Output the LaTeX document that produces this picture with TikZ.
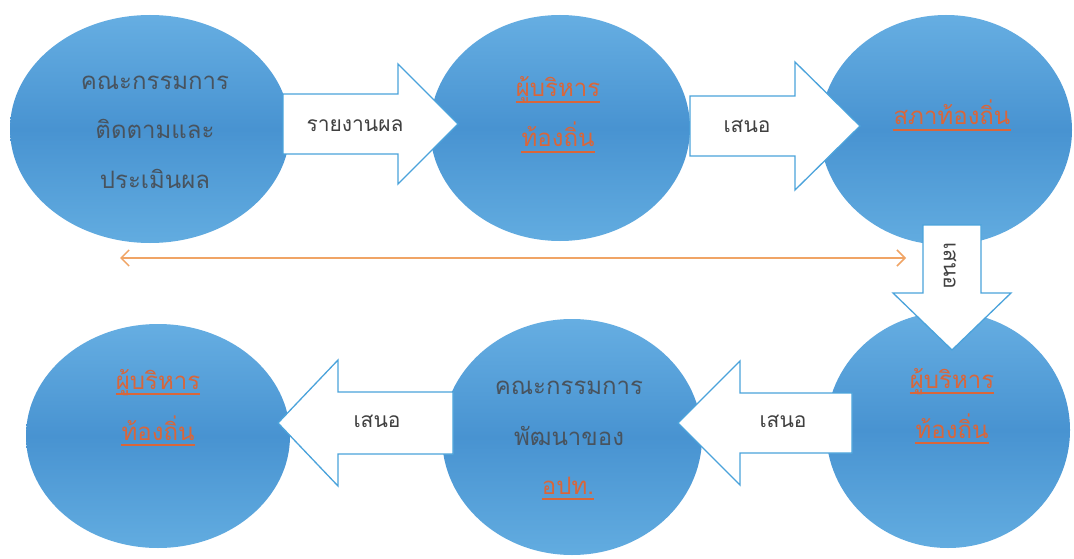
\documentclass[tikz,border=0pt]{standalone}
\usepackage{fontspec}
\newfontfamily\thaifont[Script=Thai]{Loma}
\usetikzlibrary{shapes.geometric,arrows.meta}
\definecolor{eA}{HTML}{8ECAF0}
\definecolor{eB}{HTML}{62ACE0}
\definecolor{eC}{HTML}{4893D1}
\definecolor{eD}{HTML}{66AEE2}
\definecolor{eE}{HTML}{80BEEA}
\definecolor{arrowblue}{HTML}{4BA3DB}
\definecolor{darktxt}{HTML}{48535E}
\definecolor{orangetxt}{HTML}{D9663A}
\definecolor{orangeline}{HTML}{F0A465}
\pgfdeclareverticalshading{ellblue}{100bp}{color(0bp)=(eA); color(25bp)=(eB); color(50bp)=(eC); color(75bp)=(eD); color(100bp)=(eE)}
\tikzset{
  ell/.style={ellipse, shading=ellblue, draw=none, inner sep=0pt},
  blk/.style={fill=white, draw=arrowblue, line width=1.3pt, line join=miter},
  dtext/.style={font=\thaifont\fontsize{24}{30}\selectfont, text=darktxt, anchor=base, inner sep=0pt},
  otext/.style={font=\thaifont\fontsize{24}{30}\selectfont, text=orangetxt, anchor=base, inner sep=0pt},
  lbl/.style={font=\thaifont\fontsize{21}{25}\selectfont, text=black!75, inner sep=0pt},
  uline/.style={draw=orangetxt, line width=1.6pt},
  biline/.style={draw=orangeline, line width=1.5pt, {Straight Barb[length=8pt,width=16pt]}-{Straight Barb[length=8pt,width=16pt]}}
}
\begin{document}
\begin{tikzpicture}[x=1pt,y=-1pt]
\useasboundingbox[fill=white] (0,0) rectangle (1074,559);
% ellipses
\node[ell, minimum width=280pt, minimum height=228pt] (e1) at (150,129) {};
\node[ell, minimum width=260pt, minimum height=226pt] (e2) at (560,128) {};
\node[ell, minimum width=252pt, minimum height=230pt] (e3) at (946,130) {};
\node[ell, minimum width=244pt, minimum height=236pt] (e4) at (948,430) {};
\node[ell, minimum width=260pt, minimum height=236pt] (e5) at (572,437) {};
\node[ell, minimum width=264pt, minimum height=224pt] (e6) at (158,436) {};
% block arrows
\draw[blk] (283,94) -- (398,94) -- (398,64) -- (458,124) -- (398,184) -- (398,154) -- (283,154) -- cycle;
\draw[blk] (690,96) -- (795,96) -- (795,62) -- (860,126) -- (795,190) -- (795,156) -- (690,156) -- cycle;
\draw[blk] (923,225) -- (923,293) -- (893,293) -- (952,350) -- (1011,293) -- (981,293) -- (981,225) -- cycle;
\draw[blk] (852,393) -- (740,393) -- (740,361) -- (678,423) -- (740,485) -- (740,453) -- (852,453) -- cycle;
\draw[blk] (453,392) -- (338,392) -- (338,360) -- (278,423) -- (338,486) -- (338,454) -- (453,454) -- cycle;
% arrow labels
\node[lbl] (l1) at (355,126) {รายงานผล};
\node[lbl] (l2) at (747,126) {เสนอ};
\node[lbl, rotate=-90] (l3) at (950,266) {เสนอ};
\node[lbl] (l4) at (783,421) {เสนอ};
\node[lbl] (l5) at (377,421) {เสนอ};
% orange double arrow
\coordinate (oL) at (120,258);
\coordinate (oR) at (906,258);
\draw[biline] (oL) -- (oR);
% texts
\node[dtext] (t1a) at (155,90) {คณะกรรมการ};
\node[dtext] (t1b) at (155,139) {ติดตามและ};
\node[dtext] (t1c) at (155,189) {ประเมินผล};
\node[otext] (t2a) at (558,97) {ผู้บริหาร};
\node[otext] (t2b) at (558,147) {ท้องถิ่น};
\node[otext] (t3a) at (952,125) {สภาท้องถิ่น};
\node[otext] (t4a) at (952,388) {ผู้บริหาร};
\node[otext] (t4b) at (952,438) {ท้องถิ่น};
\node[dtext] (t5a) at (569,394) {คณะกรรมการ};
\node[dtext] (t5b) at (569,445) {พัฒนาของ};
\node[otext] (t5c) at (568,494) {อปท.};
\node[otext] (t6a) at (158,389) {ผู้บริหาร};
\node[otext] (t6b) at (158,440) {ท้องถิ่น};
% underlines
\foreach \n in {t2a,t2b,t3a,t4a,t4b,t5c,t6a,t6b}
  \draw[uline] ([yshift=-5pt]\n.base west) -- ([yshift=-5pt]\n.base east);
\end{tikzpicture}
\end{document}
